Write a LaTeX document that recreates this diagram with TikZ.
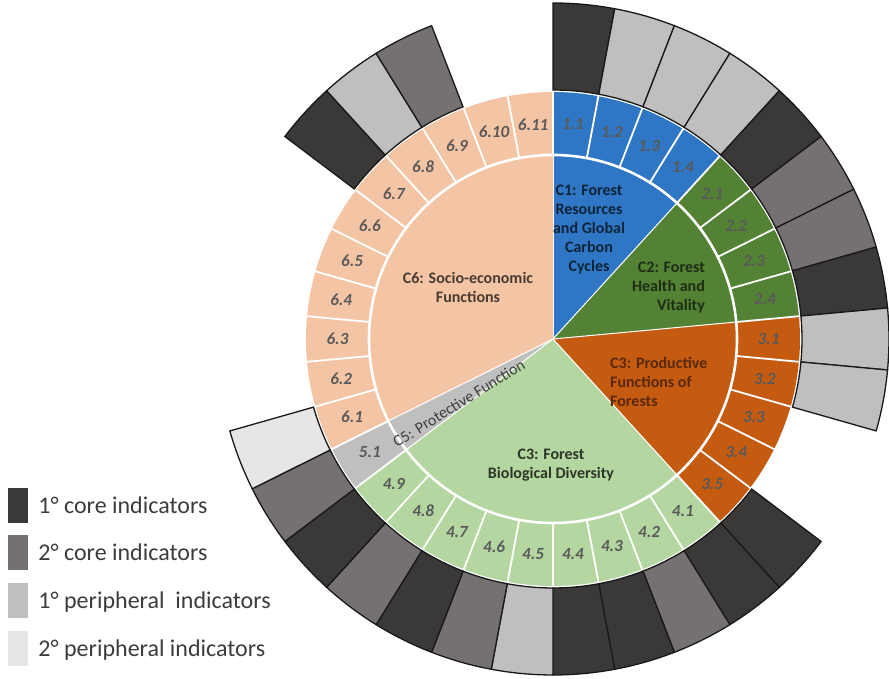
\documentclass[tikz,border=0pt]{standalone}
\usepackage{fontspec}
\setmainfont{Carlito}
\usetikzlibrary{positioning}

% criteria colours
\definecolor{cone}{HTML}{2F77C4}
\definecolor{ctwo}{HTML}{548235}
\definecolor{cthree}{HTML}{C55A11}
\definecolor{cfour}{HTML}{B4D6A0}
\definecolor{cfive}{HTML}{BFBFBF}
\definecolor{csix}{HTML}{F4C5A5}
% indicator classes
\definecolor{pone}{HTML}{3B3838}
\definecolor{ptwo}{HTML}{767171}
\definecolor{pthree}{HTML}{BFBFBF}
\definecolor{pfour}{HTML}{E7E6E6}
\definecolor{idxgray}{HTML}{5A5A5A}
\definecolor{keygray}{HTML}{3C3C3C}

\begin{document}
\begin{tikzpicture}[x=1pt, y=1pt,
  sep/.style={draw=white, line width=1.8pt},
  bar/.style={draw=black!90, line width=1.3pt},
  idx/.style={font=\fontsize{17}{17}\selectfont\bfseries\itshape, text=idxgray, inner sep=0pt},
  cat/.style={font=\fontsize{16}{19}\selectfont\bfseries, inner sep=0pt},
  keybox/.style={minimum width=20pt, minimum height=35pt, inner sep=0pt},
  keytext/.style={font=\fontsize{24}{24}\selectfont, text=keygray, inner sep=0pt,
    text height=20pt, text depth=3pt}
]
\useasboundingbox (0,0) rectangle (889,679);
\def\da{10.5882}   % 360/34 indicators

\begin{scope}[shift={(553,340)}]
% criteria wedges (pie + indicator ring)
\foreach \first/\num/\col in {0/4/cone, 4/4/ctwo, 8/5/cthree, 13/9/cfour, 22/1/cfive, 23/11/csix}{
  \pgfmathsetmacro\ta{90-\first*\da}
  \pgfmathsetmacro\tb{90-(\first+\num)*\da}
  \fill[\col] (0,0) -- (\ta:247) arc[start angle=\ta, end angle=\tb, radius=247] -- cycle;
  \draw[white, line width=1pt] (0,0) -- (\ta:184);
}

% white separators of the indicator ring
\foreach \k in {0,...,33}
  \draw[sep] ({90-\k*\da}:184) -- ({90-\k*\da}:248);
\draw[white, line width=2.6pt] (0,0) circle[radius=184];

% indicator numbers
\foreach \k/\lab in {0/1.1, 1/1.2, 2/1.3, 3/1.4, 4/2.1, 5/2.2, 6/2.3, 7/2.4,
    8/3.1, 9/3.2, 10/3.3, 11/3.4, 12/3.5, 13/4.1, 14/4.2, 15/4.3, 16/4.4, 17/4.5,
    18/4.6, 19/4.7, 20/4.8, 21/4.9, 22/5.1, 23/6.1, 24/6.2, 25/6.3, 26/6.4, 27/6.5,
    28/6.6, 29/6.7, 30/6.8, 31/6.9, 32/6.10, 33/6.11}
  \node[idx] (ind\k) at ({90-(\k+0.5)*\da}:215.5) {\lab};

% outer bars (indicator class)
\foreach \k/\shade in {0/pone, 1/pthree, 2/pthree, 3/pthree, 4/pone, 5/ptwo, 6/ptwo,
    7/pone, 8/pthree, 9/pthree, 12/pone, 13/pone, 14/ptwo, 15/pone, 16/pone,
    17/pthree, 18/ptwo, 19/pone, 20/ptwo, 21/pone, 22/ptwo, 23/pfour,
    29/pone, 30/pthree, 31/ptwo}{
  \pgfmathsetmacro\ta{90-\k*\da}
  \pgfmathsetmacro\tb{90-(\k+1)*\da}
  \draw[bar, fill=\shade] (\ta:249) arc[start angle=\ta, end angle=\tb, radius=249]
    -- (\tb:336) arc[start angle=\tb, end angle=\ta, radius=336] -- cycle;
}

% C5 label along its thin wedge
\node[font=\fontsize{16}{16}\selectfont, text=black!75, rotate=31.8, inner sep=0pt]
  (cfivelab) at (214.3:114) {C5: Protective Function};
\end{scope}

% criteria labels
\node[cat, align=center, text=cone!30!black] (conelab) at (589,449.5)
  {C1: Forest\\Resources\\and Global\\Carbon\\Cycles};
\node[cat, align=right, anchor=east, text=ctwo!35!black] (ctwolab) at (705,391)
  {C2: Forest\\Health and\\Vitality};
\node[cat, align=left, anchor=west, text=cthree!45!black] (cthreelab) at (610,297)
  {C3: Productive\\Functions of\\Forests};
\node[cat, align=center, text=cfour!25!black] (cfourlab) at (551,214)
  {C3: Forest\\Biological Diversity};
\node[cat, align=center, text=csix!30!black] (csixlab) at (468,391.5)
  {C6: Socio-economic\\Functions};

% legend
\node[keybox, fill=pone] (box1) at (18,173.5) {};
\node[keybox, fill=ptwo] (box2) at (18,126.5) {};
\node[keybox, fill=pthree] (box3) at (18,78.5) {};
\node[keybox, fill=pfour] (box4) at (18,30.5) {};
\node[keytext, right=10pt of box1] (key1) {1° core indicators};
\node[keytext, right=10pt of box2] (key2) {2° core indicators};
\node[keytext, right=10pt of box3] (key3) {1° peripheral\ \ indicators};
\node[keytext, right=10pt of box4] (key4) {2° peripheral indicators};
\end{tikzpicture}
\end{document}
